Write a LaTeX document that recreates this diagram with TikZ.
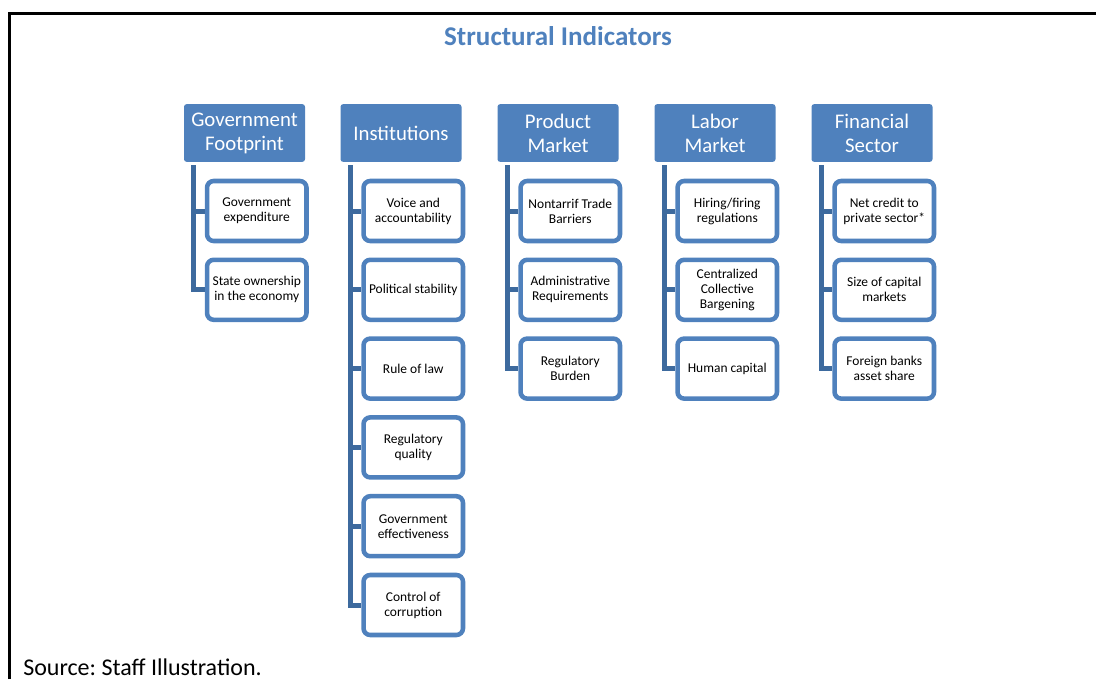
\documentclass[tikz,border=0pt]{standalone}
\usepackage{fontspec}
\setmainfont{Carlito}
\usepackage{xcolor}
\usetikzlibrary{positioning,calc}

\definecolor{hdrblue}{HTML}{4F81BD}
\definecolor{spineblue}{HTML}{3D6A9E}
\frenchspacing

\begin{document}
\begin{tikzpicture}[
    x=0.75pt, y=-0.75pt,
    node distance=10.7pt,
    hdr/.style={rectangle, fill=hdrblue, rounded corners=2pt, align=center, text=white,
                minimum width=90.75pt, minimum height=43.3pt, inner sep=1pt,
                font=\fontsize{15.6}{18}\selectfont},
    leaf/.style={rectangle, draw=hdrblue, line width=3.4pt, fill=white, rounded corners=5pt,
                 align=center, minimum width=74.6pt, minimum height=45pt, inner sep=1pt,
                 font=\fontsize{10.1}{11.25}\selectfont},
    topleaf/.style={below=12.45pt of #1.south, xshift=9.2pt},
    spine/.style={draw=spineblue, line width=3.75pt},
  ]
    \useasboundingbox (0,0) rectangle (1096,679);
    \draw[line width=2pt] (9.7,679) |- (1096,13.7);

    \node[anchor=base, font=\bfseries\fontsize{20.3}{24}\selectfont, text=hdrblue] (title) at (558,45) {Structural Indicators};

    % column heads
    \node[hdr] (gov) at (244.5,133) {Government\\Footprint};
    \node[hdr] (inst) at (401,133) {Institutions};
    \node[hdr] (prod) at (558,133) {Product\\Market};
    \node[hdr] (labor) at (715,133) {Labor\\Market};
    \node[hdr] (fin) at (872,133) {Financial\\Sector};

    % government footprint
    \node[leaf, topleaf=gov] (gov1) {Government\\expenditure};
    \node[leaf, below=of gov1] (gov2) {State ownership\\in the economy};

    % institutions
    \node[leaf, topleaf=inst] (inst1) {Voice and\\accountability};
    \node[leaf, below=of inst1] (inst2) {Political stability};
    \node[leaf, below=of inst2] (inst3) {Rule of law};
    \node[leaf, below=of inst3] (inst4) {Regulatory\\quality};
    \node[leaf, below=of inst4] (inst5) {Government\\effectiveness};
    \node[leaf, below=of inst5] (inst6) {Control of\\corruption};

    % product market
    \node[leaf, topleaf=prod] (prod1) {Nontarrif Trade\\Barriers};
    \node[leaf, below=of prod1] (prod2) {Administrative\\Requirements};
    \node[leaf, below=of prod2] (prod3) {Regulatory\\Burden};

    % labor market
    \node[leaf, topleaf=labor] (labor1) {Hiring/firing\\regulations};
    \node[leaf, below=of labor1] (labor2) {Centralized\\Collective\\Bargening};
    \node[leaf, below=of labor2] (labor3) {Human capital};

    % financial sector
    \node[leaf, topleaf=fin] (fin1) {Net credit to\\private sector*};
    \node[leaf, below=of fin1] (fin2) {Size of capital\\markets};
    \node[leaf, below=of fin2] (fin3) {Foreign banks\\asset share};

    % spines
    \coordinate (govtop) at ($(gov.south west)+(10,3)$);
    \coordinate (insttop) at ($(inst.south west)+(10,3)$);
    \coordinate (prodtop) at ($(prod.south west)+(10,3)$);
    \coordinate (labortop) at ($(labor.south west)+(10,3)$);
    \coordinate (fintop) at ($(fin.south west)+(10,3)$);

    \draw[spine] (govtop) |- (gov2);
    \draw[spine] (govtop |- gov1) -- (gov1);
    \draw[spine] (insttop) |- (inst6);
    \foreach \k in {1,...,5}
      \draw[spine] (insttop |- inst\k) -- (inst\k);
    \draw[spine] (prodtop) |- (prod3);
    \draw[spine] (labortop) |- (labor3);
    \draw[spine] (fintop) |- (fin3);
    \foreach \k in {1,2} {
      \draw[spine] (prodtop |- prod\k) -- (prod\k);
      \draw[spine] (labortop |- labor\k) -- (labor\k);
      \draw[spine] (fintop |- fin\k) -- (fin\k);
    }

    \node[anchor=base west, inner sep=0pt, font=\fontsize{18}{21}\selectfont] (src) at (23,675) {Source: Staff Illustration.};
\end{tikzpicture}
\end{document}
